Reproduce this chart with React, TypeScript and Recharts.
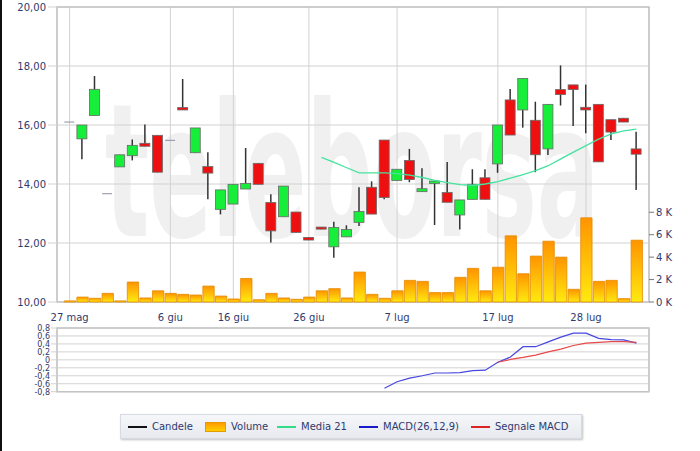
import React from "react";
import {
  Bar,
  CartesianGrid,
  ComposedChart,
  Line,
  LineChart,
  ReferenceArea,
  XAxis,
  YAxis,
} from "recharts";

// sedute: indice 0..45, etichette solo su alcune date
const tickIdx = [0, 8, 13, 19, 26, 34, 41];
const tickLabels = ["27 mag", "6 giu", "16 giu", "26 giu", "7 lug", "17 lug", "28 lug"];

const opens = [
  16.1, 15.53, 16.32, 13.67, 14.58, 14.96, 15.38, 15.65, 15.48, 16.59,
  15.06, 14.59, 13.14, 13.32, 13.83, 14.7, 13.37, 12.89, 13.05, 12.19,
  12.54, 11.87, 12.21, 12.7, 13.89, 15.49, 14.12, 14.8, 13.74, 14.02,
  13.71, 12.95, 13.48, 14.21, 14.68, 16.85, 16.51, 16.16, 15.19, 17.2,
  17.36, 16.6, 16.7, 16.18, 16.23, 15.19,
];
const highs = [
  16.1, 16.0, 17.66, 13.67, 14.99, 15.51, 16.02, 15.65, 15.48, 17.56,
  15.9, 15.08, 13.8, 13.99, 15.22, 14.7, 13.65, 13.93, 13.05, 12.19,
  12.54, 12.72, 12.6, 13.89, 14.09, 15.49, 14.5, 15.19, 14.53, 14.1,
  14.75, 13.46, 14.5, 14.5, 16.0, 17.22, 17.58, 16.79, 16.7, 18.02,
  17.36, 17.37, 16.7, 16.18, 16.23, 15.77,
];
const lows = [
  16.1, 14.84, 16.32, 13.67, 14.58, 14.8, 15.28, 14.4, 15.48, 16.51,
  15.06, 13.48, 12.97, 13.32, 13.83, 13.99, 12.02, 12.89, 12.36, 12.1,
  12.47, 11.5, 12.21, 12.58, 12.98, 13.48, 14.12, 14.06, 13.74, 12.61,
  13.38, 12.46, 13.48, 13.48, 14.38, 15.66, 15.91, 14.4, 14.98, 16.66,
  15.97, 15.72, 14.75, 15.49, 16.1, 13.8,
];
const closes = [
  16.1, 16.0, 17.21, 13.67, 14.99, 15.31, 15.28, 14.4, 15.48, 16.51,
  15.9, 14.37, 13.8, 13.99, 14.02, 13.99, 12.41, 13.93, 12.36, 12.1,
  12.47, 12.53, 12.46, 13.07, 12.98, 13.54, 14.5, 14.15, 13.84, 14.1,
  13.38, 13.46, 13.99, 13.48, 16.0, 15.66, 17.58, 14.99, 16.7, 17.03,
  17.2, 16.51, 14.75, 15.76, 16.1, 15.01,
];
const volumes = [
  100, 440, 330, 770, 100, 1780, 360, 1000, 770, 680,
  620, 1420, 530, 270, 2100, 200, 770, 360, 240, 440,
  1000, 1190, 360, 2670, 680, 330, 1000, 1930, 1840, 840,
  840, 2200, 3000, 1000, 3100, 5900, 2520, 4090, 5420, 4000,
  1130, 7500, 1840, 1930, 300, 5510,
];
const ma21 = [
  null, null, null, null, null, null, null, null, null, null,
  null, null, null, null, null, null, null, null, null, null,
  14.9, 14.73, 14.55, 14.38, 14.38, 14.38, 14.35, 14.3, 14.22, 14.12,
  14.05, 13.98, 13.95, 14.0, 14.08, 14.2, 14.32, 14.45, 14.62, 14.85,
  15.08, 15.3, 15.52, 15.7, 15.8, 15.86,
];
const macd = [
  null, null, null, null, null, null, null, null, null, null,
  null, null, null, null, null, null, null, null, null, null,
  null, null, null, null, null, -0.715, -0.55, -0.46, -0.4, -0.33,
  -0.33, -0.32, -0.27, -0.26, -0.06, 0.07, 0.33, 0.33, 0.45, 0.57,
  0.67, 0.67, 0.54, 0.51, 0.5, 0.42,
];
const signal = [
  null, null, null, null, null, null, null, null, null, null,
  null, null, null, null, null, null, null, null, null, null,
  null, null, null, null, null, null, null, null, null, null,
  null, null, null, null, -0.06, 0.01, 0.06, 0.12, 0.2, 0.27,
  0.36, 0.42, 0.44, 0.46, 0.46, 0.44,
];

const priceTicks = [10, 12, 14, 16, 18, 20];
const volTicks = [0, 2000, 4000, 6000, 8000];
const macdTicks = [-0.8, -0.6, -0.4, -0.2, 0, 0.2, 0.4, 0.6, 0.8];

const rows = opens.map((o, i) => ({
  i,
  open: o,
  high: highs[i],
  low: lows[i],
  close: closes[i],
  vol: volumes[i],
  ma: ma21[i],
  macd: macd[i],
  sig: signal[i],
}));

const TXT = "#2f3a6e";
const GRID = "#d2d2d2";
const FONT = "'DejaVu Sans', Verdana, sans-serif";

function xLabel(v: number) {
  const k = tickIdx.indexOf(v);
  return k >= 0 ? tickLabels[k] : "";
}

function Candle(props: any) {
  const { x, y, width, height, payload } = props;
  if (x == null || y == null) return null;
  const { open, close, high, low } = payload;
  const top = Math.min(y, y + height);
  const h = Math.abs(height);
  const cx = x + width / 2;
  if (high === low || h < 0.5) {
    return (
      <line x1={x} x2={x + width} y1={top} y2={top} stroke="#8c8ca8" strokeWidth={1} />
    );
  }
  const py = (v: number) => top + ((high - v) / (high - low)) * h;
  const bTop = py(Math.max(open, close));
  const bBot = py(Math.min(open, close));
  const up = close >= open;
  return (
    <g>
      <line x1={cx} x2={cx} y1={top} y2={top + h} stroke="#333" strokeWidth={1.5} />
      <rect
        x={x}
        y={bTop}
        width={width}
        height={Math.max(bBot - bTop, 2)}
        fill={up ? "#16ee3a" : "#ee1010"}
        stroke="#6a6a6a"
        strokeWidth={0.8}
      />
    </g>
  );
}

function LegendItem({ left, mark, label }: { left: number; mark: React.ReactNode; label: string }) {
  return (
    <div style={{ position: "absolute", left, top: 0, height: 23, display: "flex", alignItems: "center" }}>
      {mark}
      <span style={{ marginLeft: 5, fontSize: 10, color: TXT, whiteSpace: "nowrap" }}>{label}</span>
    </div>
  );
}

const lineMark = (c: string) => (
  <span style={{ display: "inline-block", width: 19, height: 2, background: c }} />
);

export default function App() {
  return (
    <div
      style={{
        position: "absolute",
        left: 0,
        top: 0,
        width: 700,
        height: 451,
        background: "#fff",
        fontFamily: FONT,
        overflow: "hidden",
      }}
    >
      {/* filigrana */}
      <svg width={700} height={330} style={{ position: "absolute", left: 0, top: 0 }}>
        <text
          transform="translate(105,236) scale(0.5,1)"
          x={0}
          y={0}
          fontSize={185}
          fontWeight="bold"
          fontFamily={FONT}
          fill="#f0f0f0"
        >
          teleborsa
        </text>
      </svg>

      <div style={{ position: "absolute", left: 0, top: 0 }}>
        <ComposedChart width={700} height={330} data={rows} margin={{ top: 7, right: 0, bottom: 0, left: 0 }}>
          <defs>
            <linearGradient id="volFill" x1="0" y1="0" x2="0" y2="1">
              <stop offset="0%" stopColor="#ff9400" />
              <stop offset="100%" stopColor="#ffea10" />
            </linearGradient>
          </defs>
          <CartesianGrid stroke={GRID} xAxisId="x" yAxisId="p" />
          <XAxis
            xAxisId="x"
            dataKey="i"
            type="number"
            domain={[-1, 46]}
            ticks={tickIdx}
            interval={0}
            tickFormatter={xLabel}
            tick={{ fontSize: 10, fill: TXT, fontFamily: FONT }}
            tickLine={false}
            axisLine={false}
            tickMargin={6}
            height={28}
          />
          <XAxis
            xAxisId="v"
            dataKey="i"
            type="number"
            domain={[-1, 46]}
            tick={false}
            tickLine={false}
            axisLine={false}
            height={0}
          />
          <YAxis
            yAxisId="p"
            domain={[10, 20]}
            ticks={priceTicks}
            interval={0}
            tickFormatter={(v: number) => v.toFixed(2).replace(".", ",")}
            tick={{ fontSize: 10, fill: TXT, fontFamily: FONT }}
            tickLine={{ stroke: GRID }}
            tickSize={9}
            tickMargin={2}
            axisLine={false}
            width={57}
          />
          <YAxis
            yAxisId="vol"
            orientation="right"
            domain={[0, 26300]}
            ticks={volTicks}
            interval={0}
            tickFormatter={(v: number) => `${v / 1000} K`}
            tick={{ fontSize: 10, fill: TXT, fontFamily: FONT }}
            tickLine={{ stroke: "#777" }}
            tickSize={5}
            tickMargin={2}
            axisLine={false}
            width={51}
          />
          <ReferenceArea
            xAxisId="x"
            yAxisId="p"
            x1={-1}
            x2={46}
            y1={10}
            y2={20}
            fill="none"
            stroke="#c4c4c4"
            strokeWidth={1.5}
            ifOverflow="visible"
          />
          <Bar
            xAxisId="v"
            yAxisId="vol"
            dataKey="vol"
            barSize={12.6}
            fill="url(#volFill)"
            stroke="#e58a00"
            strokeWidth={0.8}
            isAnimationActive={false}
          />
          <Bar
            xAxisId="x"
            yAxisId="p"
            dataKey={(d: any) => [d.low, d.high]}
            barSize={10}
            shape={(p: any) => <Candle {...p} />}
            isAnimationActive={false}
          />
          <Line
            xAxisId="x"
            yAxisId="p"
            dataKey="ma"
            stroke="#44e3a0"
            strokeWidth={1.3}
            dot={false}
            isAnimationActive={false}
          />
        </ComposedChart>
      </div>

      <div style={{ position: "absolute", left: 0, top: 320 }}>
        <LineChart width={700} height={80} data={rows} margin={{ top: 8, right: 51, bottom: 8.3, left: 0 }}>
          <CartesianGrid stroke={GRID} />
          <XAxis
            dataKey="i"
            type="number"
            domain={[-1, 46]}
            ticks={tickIdx}
            interval={0}
            tick={false}
            tickLine={false}
            axisLine={false}
            height={0}
          />
          <YAxis
            domain={[-0.8, 0.8]}
            ticks={macdTicks}
            interval={0}
            tickFormatter={(v: number) => (v === 0 ? "0" : v.toFixed(1).replace(".", ","))}
            tick={{ fontSize: 8, fill: TXT, fontFamily: FONT }}
            tickLine={{ stroke: GRID }}
            tickSize={6}
            tickMargin={1}
            axisLine={false}
            width={57}
          />
          <ReferenceArea
            x1={-1}
            x2={46}
            y1={-0.8}
            y2={0.8}
            fill="none"
            stroke="#c4c4c4"
            strokeWidth={1.5}
            ifOverflow="visible"
          />
          <Line dataKey="macd" stroke="#4646e0" strokeWidth={1.2} dot={false} isAnimationActive={false} />
          <Line dataKey="sig" stroke="#e84848" strokeWidth={1.2} dot={false} isAnimationActive={false} />
        </LineChart>
      </div>

      <div
        style={{
          position: "absolute",
          left: 120,
          top: 414,
          width: 460,
          height: 23,
          background: "linear-gradient(#f6f7fa, #e6e9ef)",
          border: "1px solid #d6dae2",
          boxShadow: "1px 1px 2px rgba(0,0,0,0.25)",
        }}
      >
        <LegendItem left={7} mark={lineMark("#111")} label="Candele" />
        <LegendItem
          left={84}
          mark={
            <span
              style={{
                display: "inline-block",
                width: 19,
                height: 8,
                background: "linear-gradient(#ff9a00, #ffd000)",
                border: "1px solid #e59a00",
              }}
            />
          }
          label="Volume"
        />
        <LegendItem left={156} mark={lineMark("#33dd88")} label="Media 21" />
        <LegendItem left={238} mark={lineMark("#1a1ac8")} label="MACD(26,12,9)" />
        <LegendItem left={350} mark={lineMark("#dd2222")} label="Segnale MACD" />
      </div>

      <div style={{ position: "absolute", left: 0, top: 0, width: 2, height: 451, background: "#111" }} />
    </div>
  );
}
